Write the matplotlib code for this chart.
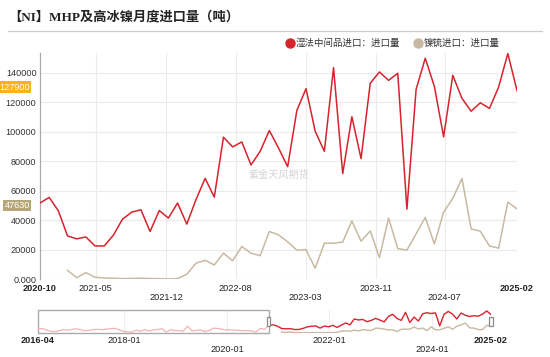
import matplotlib
matplotlib.use("Agg")
import matplotlib.pyplot as plt
from matplotlib.patches import Rectangle
import numpy as np
import pandas as pd

plt.rcParams['font.family'] = ['Liberation Sans', 'Noto Sans CJK SC', 'DejaVu Sans']

#------------- data ---------------------
W, H = 550, 357
RED = '#d7232b'
TAN = '#c9b9a3'

months = pd.date_range('2020-10-01', '2025-02-01', freq='MS').strftime('%Y-%m').tolist()

# 湿法中间品 (MHP) monthly imports, 2020-10 .. 2025-02
mhp = [51700, 55500, 46400, 29400, 27400, 28700, 22600, 22600, 29900, 40800,
       45500, 47100, 32400, 46600, 41500, 51700, 37400, 53900, 68400, 55700,
       96300, 89700, 93100, 77500, 86700, 100800, 89000, 76300, 114400, 129200,
       100300, 86700, 143400, 71600, 110100, 81800, 132800, 140500, 134800, 139600,
       47600, 128700, 149800, 130500, 96500, 138200, 122600, 113900, 119600, 115800,
       130300, 153000, 127900]

# 镍锍 (matte) monthly imports, no data before 2021-01
matte = [np.nan, np.nan, np.nan, 6100, 1100, 4500, 1400, 900, 700, 500,
         600, 700, 500, 400, 300, 500, 3400, 10900, 12900, 9700,
         17700, 12600, 22200, 17700, 16000, 32400, 30100, 25400, 19700, 20100,
         7500, 24500, 24500, 25200, 39600, 25800, 32800, 14700, 41500, 20800,
         19800, 30800, 41900, 24000, 45500, 54800, 68400, 34200, 32600, 22600,
         21100, 52300, 47630]

# MHP history shown only in the zoom slider, 2016-04 .. 2020-09
mhp_hist = [30000, 28000, 20000, 10000, 8000, 15000, 22000, 18000, 24000, 28000,
            20000, 14000, 18000, 22000, 24000, 21000, 25000, 28000, 31000, 20000,
            10000, 6000, 4000, 18000, 10000, 22000, 12000, 20000, 22000, 28000,
            5000, 20000, 16000, 14000, 12000, 46000, 14000, 16000, 20000, 8000,
            14000, 32000, 30000, 24000, 20000, 20000, 18000, 16000, 14000, 15000,
            12000, 5000, 30000, 24000]

x_labels = ['2020-10', '2021-05', '2021-12', '2022-08', '2023-03', '2023-11', '2024-07', '2025-02']
x_label_pos = [0, 6.07, 13.74, 21.33, 28.96, 36.6, 44.12, 52]
s_labels = ['2016-04', '2018-01', '2020-01', '2022-01', '2024-01', '2025-02']
s_label_pos = [0, 20.1, 44.2, 68.1, 92.2, 106]
y_ticks = [0, 20000, 40000, 60000, 80000, 100000, 120000, 140000]
#-----------------------------------------


def px_axes(fig, l, t, r, b):
    return fig.add_axes([l / W, 1 - b / H, (r - l) / W, (b - t) / H])


fig = plt.figure(figsize=(W / 100, H / 100), dpi=100)

# title + rule
fig.text(8 / W, 1 - 17.5 / H, '【NI】MHP及高冰镍月度进口量（吨）', fontsize=9.5, fontweight='bold',
         family=['Liberation Serif', 'Noto Sans CJK SC'], color='#222222', va='center', ha='left')
fig.add_artist(plt.Line2D([8 / W, 542 / W], [1 - 30.7 / H] * 2, color='#cccccc', lw=0.9))

# legend
fig.add_artist(plt.Line2D([290 / W], [1 - 42.7 / H], marker='o', ms=6.5, color=RED, lw=0))
fig.text(295.5 / W, 1 - 43 / H, '湿法中间品进口：进口量', fontsize=6.8, color='#333333', va='center')
fig.add_artist(plt.Line2D([418 / W], [1 - 42.7 / H], marker='o', ms=6.5, color=TAN, lw=0))
fig.text(423.5 / W, 1 - 43 / H, '镍锍进口：进口量', fontsize=6.8, color='#333333', va='center')

# main chart
ax = px_axes(fig, 40, 53.5, 517, 279.3)
x = np.arange(len(months))
ax.set_xlim(0, len(months) - 1)
ax.set_ylim(0, max(mhp))
for yv in y_ticks:
    ax.axhline(yv, color='#ebebeb', lw=0.8, zorder=0)
for xv in x_label_pos[1:-1]:
    ax.axvline(xv, color='#ebebeb', lw=0.8, zorder=0)
ax.plot(x, matte, color=TAN, lw=1.1, zorder=3)
ax.plot(x, mhp, color=RED, lw=1.1, zorder=4)

for s in ['top', 'right', 'bottom']:
    ax.spines[s].set_visible(False)
ax.spines['left'].set_color('#aaaaaa')
ax.spines['left'].set_linewidth(0.9)
ax.set_yticks(y_ticks)
ax.set_yticklabels(['0.000'] + [str(v) for v in y_ticks[1:]], fontsize=6.6, color='#333333')
ax.tick_params(axis='y', length=0, pad=2.5)
ax.set_xticks([])
for i, (lab, pos) in enumerate(zip(x_labels, x_label_pos)):
    row = 0 if i in (0, 1, 3, 5, 7) else 1
    bold = i in (0, len(x_labels) - 1)
    ax.annotate(lab, xy=(pos, 0), xycoords=('data', 'axes fraction'),
                xytext=(0, -6.9 - row * 6.3), textcoords='offset points',
                ha='center', va='center', fontsize=6.6, color='#222222',
                fontweight='bold' if bold else 'normal', annotation_clip=False)

# last value badges
for val, col in [(mhp[-1], '#f5b417'), (matte[-1], '#b6a77b')]:
    ax.annotate(str(val), xy=(0, val), xycoords=('axes fraction', 'data'),
                xytext=(-7.3, 2.5), textcoords='offset points', ha='right', va='center',
                fontsize=6.6, color='white', annotation_clip=False,
                bbox=dict(boxstyle='square,pad=0.12', fc=col, ec='none'))

# watermark
ax.text(0.5, 0.465, '紫金天风期货', transform=ax.transAxes, fontsize=7.3,
        color='#d4d4d4', ha='center', va='center', zorder=1)

# zoom slider
sx = px_axes(fig, 38, 310.3, 491, 332.7)
full_mhp = mhp_hist + mhp
full_matte = [np.nan] * len(mhp_hist) + matte
n0 = len(mhp_hist)
xs = np.arange(len(full_mhp))
sx.set_xlim(0, len(full_mhp) - 1)
sx.set_ylim(0, max(full_mhp) * 1.03)
for xv in s_label_pos[1:-1]:
    sx.axvline(xv, color='#eeeeee', lw=0.8, zorder=0)
sx.plot(xs[:n0 + 1], full_mhp[:n0 + 1], color='#f2b3b3', lw=0.9)
sx.plot(xs[n0:], full_mhp[n0:], color=RED, lw=1.0)
sx.plot(xs[n0:], full_matte[n0:], color=TAN, lw=1.0)
sx.add_patch(Rectangle((0, 0), n0, 1, transform=sx.get_xaxis_transform(),
                       fill=False, ec='#aaaaaa', lw=1.0, clip_on=False))
for hx in (n0, len(full_mhp) - 1):
    sx.add_patch(Rectangle((hx - 0.4, 0.3), 0.8, 0.42, transform=sx.get_xaxis_transform(),
                           fc='white', ec='#888888', lw=0.9, clip_on=False, zorder=6))
sx.axis('off')
for i, (lab, pos) in enumerate(zip(s_labels, s_label_pos)):
    row = 1 if i in (2, 4) else 0
    bold = i in (0, len(s_labels) - 1)
    sx.annotate(lab, xy=(pos, 0), xycoords=('data', 'axes fraction'),
                xytext=(0, -5.3 - row * 6.5), textcoords='offset points',
                ha='center', va='center', fontsize=6.6, color='#222222',
                fontweight='bold' if bold else 'normal', annotation_clip=False)

plt.savefig('out.png', dpi=100)
